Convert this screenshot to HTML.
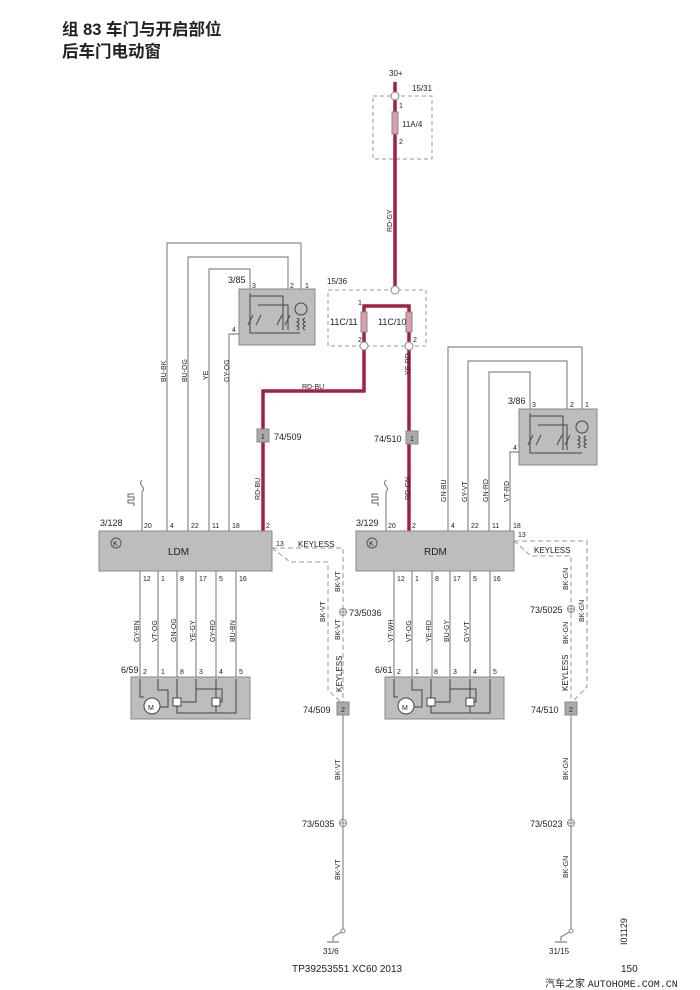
<!DOCTYPE html>
<html><head><meta charset="utf-8"><style>
html,body{margin:0;padding:0;background:#fff}
svg{display:block}
text{font-family:"Liberation Sans","Noto Sans CJK SC",sans-serif;fill:#222}
.s{font-size:8px}.m{font-size:9px}.v{font-size:7px}
.g{stroke:#8a8a8a;stroke-width:1.2;fill:none}
.r{stroke:#a3213f;stroke-width:3.5;fill:none}
.d{stroke:#999;stroke-width:1;fill:none;stroke-dasharray:5,3}
.box{fill:#bdbdbd;stroke:#888;stroke-width:1}
.c{fill:#fff;stroke:#888;stroke-width:1}
</style></head><body>
<svg width="700" height="990" viewBox="0 0 700 990" xmlns="http://www.w3.org/2000/svg">
<text x="62" y="35" style="font-size:16.5px;font-weight:bold">组 83 车门与开启部位</text>
<text x="62" y="57" style="font-size:16.5px;font-weight:bold">后车门电动窗</text>

<text x="389" y="76" class="s">30+</text>
<rect x="373" y="96" width="59" height="63" fill="none" stroke="#999" stroke-dasharray="4,3"/>
<text x="412" y="91" class="s">15/31</text>
<line x1="395" y1="82" x2="395" y2="290" class="r"/>
<circle cx="395" cy="96" r="4" class="c"/>
<rect x="392" y="112" width="6" height="22" fill="#d9a0aa" stroke="#888"/>
<text x="402" y="127" class="s">11A/4</text>
<text x="399" y="108" class="v">1</text><text x="399" y="144" class="v">2</text>
<text x="392" y="232" class="v" transform="rotate(-90 392 232)">RD-GY</text>

<rect x="328" y="290" width="98" height="56" fill="none" stroke="#999" stroke-dasharray="4,3"/>
<text x="327" y="284" class="s">15/36</text>
<polyline points="364,346 364,306 409,306 409,346" class="r"/>
<circle cx="395" cy="290" r="4" class="c"/>
<rect x="361" y="312" width="6" height="20" fill="#d9a0aa" stroke="#888"/>
<rect x="406" y="312" width="6" height="20" fill="#d9a0aa" stroke="#888"/>
<text x="330" y="325" class="m">11C/11</text>
<text x="378" y="325" class="m">11C/10</text>
<text x="358" y="305" class="v">1</text><text x="358" y="342" class="v">2</text>
<text x="413" y="342" class="v">2</text>

<polyline points="364,346 364,391 263,391 263,531" class="r"/>
<line x1="409" y1="346" x2="409" y2="531" class="r"/>
<circle cx="364" cy="346" r="4" class="c"/>
<circle cx="409" cy="346" r="4" class="c"/>
<text x="302" y="389" class="v">RD-BU</text>
<text x="410" y="375" class="v" transform="rotate(-90 410 375)">YE-RD</text>
<rect x="257" y="429" width="12" height="13" fill="#aaa" stroke="#888"/><text x="261" y="439" class="v">1</text>
<text x="274" y="440" class="m">74/509</text>
<rect x="406" y="431" width="12" height="13" fill="#aaa" stroke="#888"/><text x="410" y="441" class="v">1</text>
<text x="374" y="442" class="m">74/510</text>
<text x="260" y="500" class="v" transform="rotate(-90 260 500)">RD-BU</text>
<text x="410" y="500" class="v" transform="rotate(-90 410 500)">RD-GN</text>

<polyline points="167,531 167,243 301,243 301,289" class="g"/>
<polyline points="188,531 188,257 288,257 288,289" class="g"/>
<polyline points="209,531 209,269 250,269 250,289" class="g"/>
<polyline points="229,531 229,334 239,334" class="g"/>
<rect x="239" y="289" width="76" height="56" class="box"/>
<text x="228" y="283" class="m">3/85</text>
<text x="252" y="288" class="v">3</text><text x="290" y="288" class="v">2</text><text x="305" y="288" class="v">1</text><text x="232" y="332" class="v">4</text>
<g stroke="#444" stroke-width="1" fill="none">
<polyline points="250,293 250,333 300,333"/><polyline points="250,296 283,296 283,330"/><polyline points="258,305 288,305 288,330"/>
<line x1="248" y1="325" x2="253" y2="315"/><line x1="256" y1="325" x2="261" y2="315"/>
<line x1="277" y1="325" x2="282" y2="315"/><line x1="285" y1="325" x2="290" y2="315"/>
<circle cx="301" cy="309" r="6"/><path d="M297,318 q4,2 0,4 q4,2 0,4 q4,2 0,4 M305,318 q-4,2 0,4 q-4,2 0,4 q-4,2 0,4"/>
</g>
<text x="166" y="382" class="v" transform="rotate(-90 166 382)">BU-BK</text>
<text x="187" y="382" class="v" transform="rotate(-90 187 382)">BU-OG</text>
<text x="208" y="380" class="v" transform="rotate(-90 208 380)">YE</text>
<text x="229" y="382" class="v" transform="rotate(-90 229 382)">GY-OG</text>

<polyline points="448,531 448,347 582,347 582,409" class="g"/>
<polyline points="468,531 468,361 567,361 567,409" class="g"/>
<polyline points="489,531 489,372 530,372 530,409" class="g"/>
<polyline points="510,531 510,452 519,452" class="g"/>
<rect x="519" y="409" width="78" height="56" class="box"/>
<text x="508" y="404" class="m">3/86</text>
<text x="532" y="407" class="v">3</text><text x="570" y="407" class="v">2</text><text x="585" y="407" class="v">1</text><text x="513" y="450" class="v">4</text>
<g stroke="#444" stroke-width="1" fill="none">
<polyline points="530,413 530,453 582,453"/><polyline points="530,416 563,416 563,450"/><polyline points="538,425 567,425 567,450"/>
<line x1="528" y1="445" x2="533" y2="435"/><line x1="536" y1="445" x2="541" y2="435"/>
<line x1="557" y1="445" x2="562" y2="435"/><line x1="565" y1="445" x2="570" y2="435"/>
<circle cx="582" cy="427" r="6"/><path d="M578,436 q4,2 0,4 q4,2 0,4 q4,2 0,4 M586,436 q-4,2 0,4 q-4,2 0,4 q-4,2 0,4"/>
</g>
<text x="446" y="502" class="v" transform="rotate(-90 446 502)">GN-BU</text>
<text x="467" y="502" class="v" transform="rotate(-90 467 502)">GY-VT</text>
<text x="488" y="502" class="v" transform="rotate(-90 488 502)">GN-RD</text>
<text x="509" y="502" class="v" transform="rotate(-90 509 502)">VT-RD</text>

<g class="g"><line x1="142" y1="492" x2="142" y2="531"/><path d="M142,492 q3,-3 0,-6 q-3,-3 0,-6"/>
<line x1="386" y1="492" x2="386" y2="531"/><path d="M386,492 q3,-3 0,-6 q-3,-3 0,-6"/></g>
<path d="M126,502 h3 v-6 h3 v6 h3 v-6 h3 v6" stroke="#666" fill="none" transform="rotate(-90 132 500)"/>
<path d="M370,502 h3 v-6 h3 v6 h3 v-6 h3 v6" stroke="#666" fill="none" transform="rotate(-90 376 500)"/>

<rect x="99" y="531" width="173" height="40" class="box"/>
<text x="100" y="526" class="m">3/128</text>
<text x="168" y="555" style="font-size:10px">LDM</text>
<circle cx="116" cy="543" r="5" fill="none" stroke="#555"/><text x="113" y="546" class="v">K</text>
<text x="144" y="528" class="v">20</text><text x="170" y="528" class="v">4</text><text x="191" y="528" class="v">22</text><text x="212" y="528" class="v">11</text><text x="232" y="528" class="v">18</text><text x="266" y="528" class="v">2</text>
<text x="276" y="546" class="v">13</text>
<text x="298" y="547" class="s">KEYLESS</text>
<rect x="356" y="531" width="158" height="40" class="box"/>
<text x="356" y="526" class="m">3/129</text>
<text x="424" y="555" style="font-size:10px">RDM</text>
<circle cx="372" cy="543" r="5" fill="none" stroke="#555"/><text x="369" y="546" class="v">K</text>
<text x="388" y="528" class="v">20</text><text x="412" y="528" class="v">2</text><text x="451" y="528" class="v">4</text><text x="471" y="528" class="v">22</text><text x="492" y="528" class="v">11</text><text x="513" y="528" class="v">18</text>
<text x="518" y="537" class="v">13</text>
<text x="534" y="553" class="s">KEYLESS</text>

<g class="g">
<line x1="140" y1="571" x2="140" y2="677"/><line x1="158" y1="571" x2="158" y2="677"/><line x1="177" y1="571" x2="177" y2="677"/>
<line x1="196" y1="571" x2="196" y2="677"/><line x1="216" y1="571" x2="216" y2="677"/><line x1="236" y1="571" x2="236" y2="677"/>
<line x1="394" y1="571" x2="394" y2="677"/><line x1="412" y1="571" x2="412" y2="677"/><line x1="432" y1="571" x2="432" y2="677"/>
<line x1="450" y1="571" x2="450" y2="677"/><line x1="470" y1="571" x2="470" y2="677"/><line x1="490" y1="571" x2="490" y2="677"/>
</g>
<g class="v">
<text x="143" y="581">12</text><text x="161" y="581">1</text><text x="180" y="581">8</text><text x="199" y="581">17</text><text x="219" y="581">5</text><text x="239" y="581">16</text>
<text x="397" y="581">12</text><text x="415" y="581">1</text><text x="435" y="581">8</text><text x="453" y="581">17</text><text x="473" y="581">5</text><text x="493" y="581">16</text>
</g>
<text x="139" y="642" class="v" transform="rotate(-90 139 642)">GY-BN</text>
<text x="157" y="642" class="v" transform="rotate(-90 157 642)">VT-OG</text>
<text x="176" y="642" class="v" transform="rotate(-90 176 642)">GN-OG</text>
<text x="195" y="642" class="v" transform="rotate(-90 195 642)">YE-GY</text>
<text x="215" y="642" class="v" transform="rotate(-90 215 642)">GY-RD</text>
<text x="235" y="642" class="v" transform="rotate(-90 235 642)">BU-BN</text>
<text x="393" y="642" class="v" transform="rotate(-90 393 642)">VT-WH</text>
<text x="411" y="642" class="v" transform="rotate(-90 411 642)">VT-OG</text>
<text x="431" y="642" class="v" transform="rotate(-90 431 642)">YE-RD</text>
<text x="449" y="642" class="v" transform="rotate(-90 449 642)">BU-GY</text>
<text x="469" y="642" class="v" transform="rotate(-90 469 642)">GY-VT</text>

<g id="mot">
<rect x="131" y="677" width="119" height="42" class="box"/>
<g stroke="#444" fill="none" stroke-width="1">
<polyline points="140,679 140,697 144,697"/><polyline points="158,679 158,690 168,690 168,707 160,707"/>
<polyline points="177,679 177,713 236,713 236,679"/><polyline points="196,679 196,702 182,702"/>
<polyline points="196,689 222,689 222,702 219,702"/><line x1="216" y1="679" x2="216" y2="713"/>
<circle cx="152" cy="706" r="8" fill="#fff"/>
<rect x="173" y="698" width="8" height="8" fill="#fff"/><rect x="212" y="698" width="8" height="8" fill="#fff"/>
</g>
<text x="148" y="710" class="v">M</text>
<text x="143" y="674" class="v">2</text><text x="161" y="674" class="v">1</text><text x="180" y="674" class="v">8</text><text x="199" y="674" class="v">3</text><text x="219" y="674" class="v">4</text><text x="239" y="674" class="v">5</text>
</g>
<text x="121" y="673" class="m">6/59</text>
<use href="#mot" x="254"/>
<text x="375" y="673" class="m">6/61</text>

<polyline points="272,548 343,548 343,702" class="d"/>
<polyline points="272,548 290,562 328,562 328,690 343,704" class="d"/>
<circle cx="343" cy="612" r="3.5" class="c"/><path d="M340,612h6M343,609v6" stroke="#888"/>
<text x="349" y="616" class="m">73/5036</text>
<text x="340" y="592" class="v" transform="rotate(-90 340 592)">BK-VT</text>
<text x="325" y="622" class="v" transform="rotate(-90 325 622)">BK-VT</text>
<text x="340" y="640" class="v" transform="rotate(-90 340 640)">BK-VT</text>
<text x="342" y="692" class="s" transform="rotate(-90 342 692)">KEYLESS</text>
<rect x="337" y="702" width="12" height="13" fill="#aaa" stroke="#888"/><text x="341" y="712" class="v">2</text>
<text x="303" y="713" class="m">74/509</text>
<polyline points="343,715 343,931 333,937 333,941" class="g"/>
<line x1="327" y1="942" x2="339" y2="942" stroke="#666"/>
<circle cx="343" cy="931" r="2" class="c"/>
<circle cx="343" cy="823" r="3.5" class="c"/><path d="M340,823h6M343,820v6" stroke="#888"/>
<text x="302" y="827" class="m">73/5035</text>
<text x="340" y="780" class="v" transform="rotate(-90 340 780)">BK-VT</text>
<text x="340" y="880" class="v" transform="rotate(-90 340 880)">BK-VT</text>
<text x="323" y="954" class="s">31/6</text>

<polyline points="514,541 587,541 587,687 571,703" class="d"/>
<polyline points="514,541 531,556 571,556 571,702" class="d"/>
<circle cx="571" cy="609" r="3.5" class="c"/><path d="M568,609h6M571,606v6" stroke="#888"/>
<text x="530" y="613" class="m">73/5025</text>
<text x="568" y="590" class="v" transform="rotate(-90 568 590)">BK-GN</text>
<text x="584" y="622" class="v" transform="rotate(-90 584 622)">BK-GN</text>
<text x="568" y="644" class="v" transform="rotate(-90 568 644)">BK-GN</text>
<text x="568" y="691" class="s" transform="rotate(-90 568 691)">KEYLESS</text>
<rect x="565" y="702" width="12" height="13" fill="#aaa" stroke="#888"/><text x="569" y="712" class="v">2</text>
<text x="531" y="713" class="m">74/510</text>
<polyline points="571,715 571,931 561,937 561,941" class="g"/>
<line x1="555" y1="942" x2="567" y2="942" stroke="#666"/>
<circle cx="571" cy="931" r="2" class="c"/>
<circle cx="571" cy="823" r="3.5" class="c"/><path d="M568,823h6M571,820v6" stroke="#888"/>
<text x="530" y="827" class="m">73/5023</text>
<text x="568" y="780" class="v" transform="rotate(-90 568 780)">BK-GN</text>
<text x="568" y="878" class="v" transform="rotate(-90 568 878)">BK-GN</text>
<text x="549" y="954" class="s">31/15</text>

<text x="627" y="945" class="m" transform="rotate(-90 627 945)">I01129</text>
<text x="292" y="972" style="font-size:10px">TP39253551 XC60 2013</text>
<text x="621" y="972" style="font-size:10px">150</text>
<text x="545" y="987" style="font-size:10px">汽车之家 <tspan style="font-family:'Liberation Mono',monospace">AUTOHOME.COM.CN</tspan></text>
</svg>
</body></html>
